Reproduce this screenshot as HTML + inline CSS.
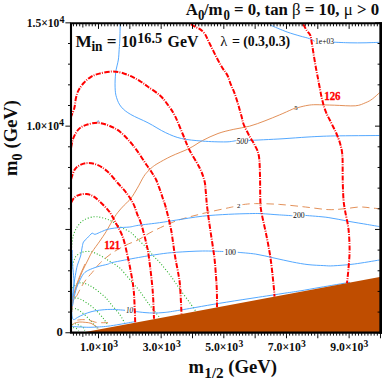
<!DOCTYPE html>
<html><head><meta charset="utf-8"><title>plot</title>
<style>
html,body{margin:0;padding:0;background:#fff;}
body{width:382px;height:383px;overflow:hidden;position:relative;font-family:"Liberation Serif",serif;}
</style></head><body>
<svg width="382" height="383" viewBox="0 0 382 383" style="display:block;position:absolute;left:0;top:0">
<rect x="0" y="0" width="382" height="383" fill="#ffffff"/>
<clipPath id="pc"><rect x="71.0" y="23.3" width="309.6" height="309.34999999999997"/></clipPath>
<g clip-path="url(#pc)" fill="none" stroke-linecap="butt" stroke-linejoin="round">
<g stroke="#2eb22e" stroke-width="1.12" stroke-dasharray="1.0 1.95">
<path d="M71.6,247.4 C71.8,245.6 72.2,239.8 73.1,236.4 C74.0,233.0 75.3,229.8 77.1,227.0 C78.9,224.2 81.3,221.6 84.1,219.9 C86.8,218.2 90.7,217.2 93.6,216.8 C96.5,216.4 98.5,216.9 101.4,217.6 C104.3,218.2 107.7,219.1 110.8,220.7 C113.9,222.3 117.2,225.2 120.3,227.0 C123.4,228.8 126.9,229.8 129.7,231.7 C132.5,233.6 134.2,235.8 137.0,238.5 C139.8,241.2 143.7,244.8 146.4,247.6 C149.1,250.4 150.7,252.9 153.0,255.5 C155.3,258.1 157.5,259.8 160.5,263.3 C163.5,266.8 167.7,272.0 171.0,276.4 C174.3,280.8 176.8,284.9 180.1,289.5 C183.4,294.1 188.1,300.4 190.7,304.0 C193.3,307.6 195.0,310.2 195.9,311.4"/>
<path d="M72.0,268.4 C72.3,267.2 73.1,263.1 73.8,261.0 C74.5,258.9 74.8,257.5 76.3,256.0 C77.8,254.5 80.2,252.8 82.6,252.1 C84.9,251.4 87.8,251.2 90.4,251.6 C93.0,252.0 95.4,253.1 98.3,254.5 C101.2,255.9 105.1,258.4 107.7,260.0 C110.3,261.6 111.9,262.5 114.0,263.9 C116.1,265.3 118.0,266.4 120.2,268.5 C122.4,270.6 125.1,273.9 127.3,276.5 C129.5,279.1 131.6,281.8 133.5,284.0 C135.4,286.2 135.9,286.2 138.5,289.5 C141.1,292.8 145.3,299.4 148.8,304.0 C152.3,308.6 157.6,314.9 159.3,317.1"/>
<path d="M72.5,288.0 C73.2,287.4 74.9,285.0 76.4,284.1 C77.9,283.2 79.7,282.7 81.6,282.8 C83.5,282.9 85.8,283.7 87.9,284.6 C90.0,285.5 91.9,286.7 94.2,288.3 C96.5,289.9 99.4,292.2 101.5,294.0 C103.6,295.8 105.2,297.2 106.7,298.8 C108.2,300.4 108.6,301.2 110.8,303.9 C113.0,306.6 117.7,311.7 120.0,314.9 C122.3,318.1 123.8,321.6 124.6,323.0"/>
<path d="M72.2,299.4 C72.8,299.1 74.5,297.9 75.9,297.9 C77.3,297.9 78.8,298.4 80.6,299.2 C82.4,300.0 84.7,301.5 86.8,302.9 C88.9,304.3 91.0,305.8 93.1,307.6 C95.2,309.4 97.5,311.7 99.4,313.8 C101.3,315.9 103.2,318.2 104.6,320.1 C106.0,322.0 107.3,324.2 107.8,325.0"/>
<path d="M72.2,309.1 C72.7,309.0 74.1,308.3 75.3,308.6 C76.5,308.9 77.9,309.6 79.5,310.7 C81.1,311.8 83.0,313.3 84.8,314.9 C86.5,316.5 88.3,318.3 90.0,320.1 C91.7,321.9 94.0,324.4 95.2,325.9 C96.4,327.3 97.0,328.3 97.3,328.8"/>
<path d="M72.2,324.6 C72.7,324.5 74.1,323.7 75.3,323.8 C76.5,323.9 78.1,324.7 79.5,325.4 C80.9,326.1 82.8,327.1 83.7,328.0 C84.6,328.9 84.6,330.2 84.8,330.6"/>
<path d="M73.2,327.5 C73.7,327.7 75.5,327.9 76.4,328.5 C77.3,329.1 78.2,330.6 78.5,331.0"/>
</g>
<g stroke="#e08a50" stroke-width="0.95">
<path d="M72.2,306.0 C72.3,305.0 72.4,301.9 72.7,299.8 C73.0,297.7 73.3,296.6 74.3,293.5 C75.3,290.4 77.1,284.8 78.5,281.0 C79.9,277.2 81.1,274.0 82.7,270.5 C84.3,267.0 86.4,263.1 87.9,260.0 C89.5,256.9 90.0,255.2 92.0,252.1 C94.0,248.9 97.5,244.5 99.8,241.1 C102.1,237.7 104.0,235.1 106.1,231.7 C108.2,228.3 110.5,223.8 112.4,220.7 C114.3,217.5 115.5,215.4 117.5,212.8 C119.5,210.2 122.0,207.5 124.2,205.2 C126.4,202.8 128.5,201.5 130.7,198.7 C132.9,195.9 135.1,191.9 137.3,188.2 C139.5,184.5 142.0,179.2 143.8,176.4 C145.6,173.6 146.6,172.8 148.0,171.2 C149.4,169.6 150.8,168.3 152.5,167.0 C154.2,165.7 154.9,165.1 158.0,163.3 C161.1,161.5 165.8,158.8 171.0,156.3 C176.2,153.8 184.1,151.0 189.3,148.4 C194.5,145.8 197.6,143.1 202.4,140.6 C207.2,138.1 212.8,135.4 218.0,133.5 C223.2,131.6 228.6,130.5 233.8,129.3 C239.1,128.1 244.3,127.6 249.5,126.2 C254.7,124.8 260.0,122.7 265.0,120.8 C270.0,118.9 274.7,116.9 279.3,115.0 C283.9,113.1 289.6,110.4 292.4,109.2 C295.2,108.0 294.9,108.4 296.0,108.1 C297.1,107.8 297.0,107.8 299.0,107.3 C301.0,106.8 305.2,105.7 308.0,105.3 C310.8,104.9 311.6,104.7 316.0,104.7 C320.4,104.7 327.8,105.0 334.4,105.2 C340.9,105.4 350.1,106.2 355.3,105.8 C360.5,105.4 363.0,103.7 365.8,102.6 C368.6,101.5 370.0,100.7 372.3,99.0 C374.6,97.3 378.3,93.8 379.5,92.7"/>
<path d="M72.0,312.0 C72.0,310.7 72.0,306.7 72.2,304.0 C72.4,301.3 72.5,299.2 73.2,296.0 C73.9,292.8 75.3,288.7 76.5,285.0 C77.7,281.3 79.2,277.5 80.6,274.0 C82.0,270.5 84.3,265.7 85.0,264.0"/>
<path d="M71.7,325.4 C72.1,325.0 73.0,323.9 74.3,323.3 C75.6,322.7 77.6,322.1 79.5,322.0 C81.4,321.9 83.9,322.2 85.8,322.4 C87.7,322.6 89.4,322.7 91.0,323.3 C92.6,323.9 94.0,325.1 95.2,325.9 C96.4,326.7 97.9,327.6 98.4,328.0"/>
<path d="M72.0,309.0 C72.2,307.7 72.7,303.5 73.2,301.3 C73.8,299.1 75.0,296.9 75.3,296.0"/>
</g>
<g stroke="#e08a50" stroke-width="0.95" stroke-dasharray="7.5 4.5">
<path d="M76.4,296.6 C77.1,295.2 79.0,291.1 80.6,288.3 C82.2,285.5 83.9,282.5 85.8,279.9 C87.7,277.3 89.6,275.5 92.1,272.6 C94.5,269.7 97.1,265.9 100.5,262.6 C103.9,259.3 108.3,255.7 112.4,252.8 C116.5,250.0 120.7,247.7 125.0,245.5 C129.3,243.3 133.9,242.0 138.5,239.7 C143.1,237.3 146.3,234.5 152.6,231.4 C158.9,228.3 167.9,223.9 176.2,220.9 C184.5,217.9 193.7,215.8 202.4,213.6 C211.1,211.4 223.0,209.0 228.5,207.8 C234.0,206.6 234.3,206.6 235.5,206.4"/>
<path d="M242.5,204.6 C244.7,204.4 249.6,203.6 255.7,203.6 C261.8,203.6 271.0,203.8 279.3,204.4 C287.6,205.0 297.3,206.1 305.4,207.0 C313.5,207.9 321.7,209.3 328.1,209.6 C334.5,209.9 338.6,209.2 343.8,208.8 C349.0,208.4 355.1,207.2 359.5,207.0 C363.9,206.8 366.7,207.5 370.0,207.8 C373.3,208.1 377.9,208.6 379.5,208.8"/>
<path d="M77.4,320.1 C78.3,320.0 80.8,319.6 82.7,319.6 C84.6,319.6 86.8,319.7 88.9,320.1 C91.0,320.5 93.1,321.8 95.2,322.2 C97.3,322.6 99.4,322.6 101.5,322.7 C103.6,322.8 106.9,322.6 108.0,322.6"/>
</g>
<g stroke="#4ba3ff" stroke-width="0.95">
<path d="M120.2,24.0 C120.1,26.7 120.0,35.3 119.8,40.0 C119.6,44.7 119.2,48.7 119.0,52.0 C118.8,55.3 118.8,56.6 118.3,60.0 C117.8,63.4 116.2,68.1 115.7,72.6 C115.2,77.1 114.9,83.0 115.1,87.2 C115.2,91.4 115.5,94.4 116.6,97.7 C117.6,101.0 119.0,104.3 121.4,107.1 C123.8,109.9 126.4,111.9 130.8,114.5 C135.2,117.1 142.2,119.8 148.0,122.8 C153.8,125.8 160.1,130.1 165.7,132.7 C171.3,135.3 175.3,137.1 181.4,138.5 C187.5,139.9 195.0,140.5 202.4,141.1 C209.8,141.7 220.3,142.0 226.0,141.9 C231.7,141.8 234.7,140.8 236.4,140.6"/>
<path d="M248.5,140.5 C254.1,140.2 272.1,139.4 282.0,138.8 C291.9,138.2 299.3,137.5 308.0,137.0 C316.7,136.5 322.5,136.2 334.4,135.9 C346.3,135.7 372.0,135.6 379.5,135.5"/>
<path d="M270.1,25.0 C272.9,26.2 282.1,30.2 287.1,32.0 C292.1,33.8 296.3,34.9 300.0,36.0 C303.7,37.1 307.0,37.7 309.4,38.6 C311.8,39.5 313.7,40.8 314.6,41.2"/>
<path d="M334.0,42.2 C336.7,42.3 344.8,42.7 350.0,42.8 C355.2,42.9 360.1,42.9 365.0,42.8 C369.9,42.7 377.1,42.4 379.5,42.3"/>
<path d="M72.2,299.8 C72.4,298.1 72.7,293.3 73.2,289.3 C73.7,285.3 74.6,279.7 75.3,275.7 C76.0,271.7 76.5,268.5 77.4,265.2 C78.3,261.9 79.8,259.0 80.6,256.0 C81.4,253.0 81.7,249.3 82.2,247.0 C82.7,244.7 82.7,243.5 83.5,242.0 C84.3,240.5 85.9,239.4 87.3,238.0 C88.7,236.6 90.7,233.9 92.0,233.3 C93.3,232.7 93.5,234.6 95.1,234.3 C96.7,234.0 99.3,232.5 101.4,231.7 C103.5,230.9 105.1,230.0 107.7,229.3 C110.3,228.7 113.4,228.2 117.1,227.8 C120.8,227.4 126.1,227.4 129.7,227.0 C133.3,226.6 133.5,226.0 138.5,225.3 C143.5,224.6 153.2,223.6 159.5,222.7 C165.8,221.8 169.0,221.2 176.2,220.1 C183.3,219.0 193.7,217.2 202.4,216.2 C211.1,215.2 220.7,214.7 228.5,214.3 C236.3,213.9 244.1,213.7 249.5,213.6 C254.9,213.5 256.0,213.4 261.0,213.6 C266.0,213.8 274.1,214.6 279.3,214.9 C284.5,215.2 290.2,215.6 292.4,215.7"/>
<path d="M305.4,215.4 C309.2,215.8 320.8,216.5 328.1,217.5 C335.4,218.5 342.4,220.2 349.0,221.4 C355.6,222.6 362.3,223.6 367.4,224.5 C372.5,225.4 377.5,226.2 379.5,226.6"/>
<path d="M72.5,306.0 C72.7,304.8 73.1,301.6 73.8,298.7 C74.5,295.8 75.5,291.2 76.4,288.3 C77.4,285.4 78.3,283.4 79.5,281.0 C80.7,278.6 82.1,275.4 83.7,273.6 C85.3,271.8 86.6,271.1 88.9,270.0 C91.2,268.9 94.2,267.8 97.3,266.8 C100.4,265.8 105.3,264.9 107.8,264.2 C110.3,263.5 107.3,263.6 112.4,262.5 C117.5,261.4 130.7,258.9 138.5,257.5 C146.3,256.1 153.2,255.0 159.5,254.1 C165.8,253.2 169.0,252.8 176.2,252.3 C183.3,251.8 194.6,251.1 202.4,251.0 C210.2,250.9 219.8,251.4 223.3,251.5"/>
<path d="M237.7,252.3 C240.7,252.6 249.6,253.2 255.7,254.1 C261.8,255.0 267.9,256.7 274.0,258.0 C280.1,259.3 286.7,260.9 292.4,262.0 C298.1,263.1 302.8,264.0 308.0,264.6 C313.2,265.2 319.6,265.4 323.8,265.6 C328.0,265.8 328.3,266.1 333.4,265.8 C338.5,265.5 346.6,265.0 354.3,264.0 C362.0,263.0 375.3,260.7 379.5,260.0"/>
<path d="M71.9,300.0 C71.9,301.8 71.7,307.9 71.7,310.7 C71.8,313.5 71.9,315.5 72.2,317.0 C72.5,318.5 72.9,319.5 73.8,319.6 C74.7,319.7 75.8,318.4 77.4,317.5 C79.1,316.6 81.4,315.3 83.7,314.4 C86.0,313.4 88.4,312.5 91.0,311.8 C93.6,311.1 96.1,310.6 99.4,310.2 C102.7,309.8 106.5,309.4 110.8,309.4 C115.1,309.4 122.6,310.1 125.0,310.3"/>
<path d="M134.4,311.4 C136.2,311.6 141.7,312.3 145.0,312.6 C148.3,312.9 151.0,313.0 154.0,313.0 C157.0,313.0 159.9,312.9 163.0,312.6 C166.1,312.3 166.9,312.3 172.4,311.4 C177.9,310.5 188.1,308.8 195.9,307.4 C203.8,306.0 210.5,304.8 219.5,303.3 C228.5,301.8 239.6,300.1 250.0,298.5 C260.4,296.9 273.7,294.9 282.0,293.6 C290.3,292.3 293.7,291.9 300.0,290.9 C306.3,289.9 311.7,288.8 320.0,287.4 C328.3,286.0 345.0,283.1 350.0,282.3"/>
<path d="M72.2,326.4 C73.2,326.5 75.7,326.8 78.5,326.9 C81.3,327.0 85.4,327.3 88.9,327.3 C92.4,327.3 96.2,327.1 99.4,326.9 C102.6,326.7 104.4,326.6 107.8,326.2 C111.2,325.8 115.5,325.1 120.0,324.3 C124.5,323.5 132.5,322.1 135.0,321.6"/>
<path d="M97.4,122.4 C97.5,122.1 97.9,120.6 98.2,120.6 C98.5,120.6 99.0,121.9 99.2,122.2"/>
<path d="M72.2,250.0 C72.2,252.0 72.2,257.7 72.4,262.0 C72.6,266.3 73.3,271.7 73.6,275.7 C73.9,279.7 74.1,282.6 74.0,286.0 C73.9,289.4 73.2,294.3 73.0,296.0"/>
</g>
<path d="M76.5,333.65 L382.6,276.4 L382.6,333.65 Z" fill="#bf4d00" stroke="none"/>
<g stroke="#ff0000" stroke-width="2.0" stroke-dasharray="5.2 1.25 0.9 1.45">
<path d="M71.0,118.0 C71.0,117.8 70.5,118.1 71.1,116.5 C71.6,114.9 73.5,111.3 74.3,108.2 C75.1,105.1 75.3,100.7 76.0,97.7 C76.7,94.7 77.2,92.9 78.5,90.4 C79.8,88.0 81.6,85.3 83.7,83.0 C85.8,80.7 88.4,78.4 91.0,76.8 C93.6,75.2 95.9,74.5 99.4,73.6 C102.9,72.7 108.2,71.6 112.0,71.5 C115.8,71.4 119.0,72.0 122.5,73.0 C126.0,74.0 129.8,75.7 132.9,77.2 C136.0,78.7 138.8,80.4 141.3,82.0 C143.8,83.6 144.9,84.5 148.0,86.8 C151.1,89.0 156.7,92.5 160.0,95.5 C163.3,98.5 165.5,101.6 168.0,105.0 C170.5,108.4 172.6,111.2 175.0,116.0 C177.4,120.8 180.3,128.4 182.7,134.0 C185.1,139.6 186.5,144.0 189.3,149.7 C192.1,155.4 197.2,162.8 199.7,168.0 C202.2,173.2 203.5,177.0 204.5,181.0 C205.5,185.0 205.4,187.9 205.8,192.0 C206.2,196.1 206.3,199.5 207.0,205.7 C207.7,211.9 209.0,221.0 210.2,229.3 C211.4,237.6 213.1,247.6 214.1,255.4 C215.1,263.2 215.6,270.7 216.0,276.4 C216.4,282.1 216.6,284.4 216.8,289.5 C217.0,294.6 217.0,304.2 217.0,307.2"/>
<path d="M71.1,147.7 C71.4,146.2 72.0,141.6 73.2,138.5 C74.4,135.4 76.3,131.7 78.5,129.4 C80.7,127.1 83.0,126.0 86.3,124.9 C89.6,123.8 94.2,122.6 98.1,122.8 C102.0,123.0 106.1,124.5 109.8,126.0 C113.5,127.5 116.8,129.2 120.3,132.0 C123.8,134.8 127.6,139.0 130.7,142.5 C133.8,146.0 136.0,149.2 138.6,152.9 C141.2,156.6 144.2,161.5 146.4,164.7 C148.6,167.9 149.9,169.5 151.5,172.0 C153.1,174.5 154.6,176.5 156.0,179.5 C157.4,182.5 158.8,186.8 160.0,190.0 C161.2,193.2 162.1,196.2 163.0,199.0 C163.9,201.8 164.4,201.9 165.7,207.0 C167.0,212.1 169.5,221.2 171.0,229.3 C172.5,237.4 173.6,247.6 174.9,255.4 C176.2,263.2 177.9,270.9 178.8,276.4 C179.7,281.9 179.8,282.1 180.2,288.3 C180.6,294.5 181.3,309.4 181.5,313.6"/>
<path d="M71.1,179.1 C71.7,177.6 73.0,172.2 74.5,169.9 C76.0,167.6 77.6,166.3 79.8,165.2 C82.0,164.1 84.8,163.2 87.6,163.1 C90.4,163.0 93.5,163.3 96.8,164.7 C100.1,166.0 103.7,168.1 107.2,171.2 C110.7,174.2 114.4,179.3 117.7,183.0 C121.0,186.7 124.2,189.9 126.8,193.4 C129.4,196.9 131.7,200.4 133.4,203.9 C135.2,207.4 136.0,211.0 137.3,214.3 C138.6,217.7 139.8,219.4 141.2,224.0 C142.6,228.6 144.7,236.3 146.0,242.0 C147.3,247.7 147.9,249.8 149.0,258.0 C150.1,266.2 151.9,280.9 152.7,291.0 C153.5,301.1 153.8,314.1 154.0,318.7"/>
<path d="M71.1,202.6 C71.7,201.7 73.0,198.7 74.5,197.4 C76.0,196.1 77.8,195.3 79.8,194.7 C81.8,194.1 84.1,193.8 86.3,194.0 C88.5,194.2 90.6,194.8 92.8,196.0 C95.0,197.2 97.0,199.1 99.4,201.3 C101.8,203.5 105.2,206.9 107.2,209.1 C109.2,211.3 109.8,212.2 111.1,214.3 C112.4,216.4 113.0,217.6 115.0,221.4 C117.0,225.2 120.6,231.0 122.8,237.1 C125.0,243.2 126.7,252.5 128.0,258.0 C129.3,263.5 129.6,265.2 130.5,270.0 C131.4,274.8 132.7,281.8 133.3,287.0 C134.0,292.2 134.1,295.5 134.4,301.4 C134.7,307.3 135.1,318.7 135.2,322.2"/>
<path d="M190.9,24.2 C191.7,24.7 194.0,26.1 195.6,27.0 C197.2,27.9 198.7,28.2 200.3,29.4 C201.9,30.6 203.6,32.1 205.0,34.1 C206.4,36.1 207.1,38.5 208.5,41.2 C209.9,44.0 211.6,47.5 213.2,50.6 C214.8,53.7 216.3,57.1 217.9,60.0 C219.5,62.9 221.0,65.7 222.6,68.2 C224.2,70.8 226.0,72.5 227.4,75.3 C228.8,78.0 229.7,81.8 230.9,84.7 C232.1,87.6 233.4,90.2 234.4,92.9 C235.4,95.7 236.3,98.5 237.2,101.2 C238.1,104.0 238.9,106.9 239.6,109.4 C240.3,112.0 240.9,114.0 241.6,116.5 C242.3,119.0 242.4,121.2 243.7,124.5 C245.0,127.8 247.5,132.4 249.4,136.0 C251.3,139.6 253.6,142.7 255.2,146.0 C256.8,149.3 258.1,151.1 258.9,156.1 C259.7,161.1 259.8,169.0 260.0,176.2 C260.2,183.4 260.1,193.4 260.3,199.2 C260.5,205.0 260.2,205.1 261.2,211.0 C262.2,216.9 264.7,227.1 266.2,234.5 C267.7,241.9 269.0,248.4 270.1,255.4 C271.2,262.4 272.1,270.7 272.7,276.4 C273.3,282.1 273.7,286.1 274.0,289.5 C274.3,292.9 274.4,295.4 274.5,296.6"/>
<path d="M303.2,24.2 C303.8,25.3 305.6,28.8 306.8,30.6 C308.0,32.5 309.5,33.1 310.3,35.3 C311.1,37.4 311.3,40.2 311.9,43.5 C312.5,46.8 313.1,51.0 313.8,55.3 C314.5,59.6 315.4,65.1 316.2,69.4 C317.0,73.7 317.8,77.3 318.5,81.2 C319.2,85.1 320.1,89.7 320.7,92.9 C321.3,96.1 321.8,98.0 322.4,100.5 C323.0,103.0 323.6,105.7 324.4,108.0 C325.2,110.3 326.1,112.5 327.0,114.5 C327.9,116.5 328.8,118.0 329.8,120.0 C330.8,122.0 332.0,124.4 333.0,126.5 C334.0,128.6 335.1,130.4 336.0,132.5 C336.9,134.6 337.8,136.9 338.6,139.0 C339.4,141.1 340.0,143.0 340.6,145.2 C341.2,147.4 341.7,149.5 342.0,152.0 C342.3,154.5 342.5,155.6 342.6,160.0 C342.7,164.4 342.6,171.9 342.7,178.5 C342.8,185.1 343.1,194.1 343.5,199.5 C343.9,204.9 344.3,206.0 345.1,210.9 C345.9,215.8 347.8,222.7 348.5,229.2 C349.2,235.7 349.6,243.6 349.6,250.1 C349.6,256.6 348.9,262.9 348.5,268.4 C348.1,273.9 347.2,280.7 347.0,283.2"/>
</g>
</g>
<g stroke="#000" fill="none" stroke-linecap="butt">
<path d="M73.44,333.15 v2.5 M73.44,23.8 v2.5 M76.57,333.15 v2.5 M76.57,23.8 v2.5 M79.70,333.15 v2.5 M79.70,23.8 v2.5 M82.84,333.15 v3.7 M82.84,23.8 v3.7 M85.97,333.15 v2.5 M85.97,23.8 v2.5 M89.10,333.15 v2.5 M89.10,23.8 v2.5 M92.23,333.15 v2.5 M92.23,23.8 v2.5 M95.37,333.15 v2.5 M95.37,23.8 v2.5 M98.50,333.15 v5.1 M98.50,23.8 v5.1 M101.63,333.15 v2.5 M101.63,23.8 v2.5 M104.77,333.15 v2.5 M104.77,23.8 v2.5 M107.90,333.15 v2.5 M107.90,23.8 v2.5 M111.03,333.15 v2.5 M111.03,23.8 v2.5 M114.16,333.15 v2.5 M114.16,23.8 v2.5 M117.30,333.15 v2.5 M117.30,23.8 v2.5 M120.43,333.15 v2.5 M120.43,23.8 v2.5 M123.56,333.15 v2.5 M123.56,23.8 v2.5 M126.70,333.15 v2.5 M126.70,23.8 v2.5 M129.83,333.15 v5.1 M129.83,23.8 v5.1 M132.96,333.15 v2.5 M132.96,23.8 v2.5 M136.10,333.15 v2.5 M136.10,23.8 v2.5 M139.23,333.15 v2.5 M139.23,23.8 v2.5 M142.36,333.15 v2.5 M142.36,23.8 v2.5 M145.50,333.15 v2.5 M145.50,23.8 v2.5 M148.63,333.15 v2.5 M148.63,23.8 v2.5 M151.76,333.15 v2.5 M151.76,23.8 v2.5 M154.89,333.15 v2.5 M154.89,23.8 v2.5 M158.03,333.15 v2.5 M158.03,23.8 v2.5 M161.16,333.15 v5.1 M161.16,23.8 v5.1 M164.29,333.15 v2.5 M164.29,23.8 v2.5 M167.43,333.15 v2.5 M167.43,23.8 v2.5 M170.56,333.15 v2.5 M170.56,23.8 v2.5 M173.69,333.15 v2.5 M173.69,23.8 v2.5 M176.82,333.15 v2.5 M176.82,23.8 v2.5 M179.96,333.15 v2.5 M179.96,23.8 v2.5 M183.09,333.15 v2.5 M183.09,23.8 v2.5 M186.22,333.15 v2.5 M186.22,23.8 v2.5 M189.36,333.15 v2.5 M189.36,23.8 v2.5 M192.49,333.15 v5.1 M192.49,23.8 v5.1 M195.62,333.15 v2.5 M195.62,23.8 v2.5 M198.76,333.15 v2.5 M198.76,23.8 v2.5 M201.89,333.15 v2.5 M201.89,23.8 v2.5 M205.02,333.15 v2.5 M205.02,23.8 v2.5 M208.16,333.15 v2.5 M208.16,23.8 v2.5 M211.29,333.15 v2.5 M211.29,23.8 v2.5 M214.42,333.15 v2.5 M214.42,23.8 v2.5 M217.55,333.15 v2.5 M217.55,23.8 v2.5 M220.69,333.15 v2.5 M220.69,23.8 v2.5 M223.82,333.15 v5.1 M223.82,23.8 v5.1 M226.95,333.15 v2.5 M226.95,23.8 v2.5 M230.09,333.15 v2.5 M230.09,23.8 v2.5 M233.22,333.15 v2.5 M233.22,23.8 v2.5 M236.35,333.15 v2.5 M236.35,23.8 v2.5 M239.48,333.15 v2.5 M239.48,23.8 v2.5 M242.62,333.15 v2.5 M242.62,23.8 v2.5 M245.75,333.15 v2.5 M245.75,23.8 v2.5 M248.88,333.15 v2.5 M248.88,23.8 v2.5 M252.02,333.15 v2.5 M252.02,23.8 v2.5 M255.15,333.15 v5.1 M255.15,23.8 v5.1 M258.28,333.15 v2.5 M258.28,23.8 v2.5 M261.42,333.15 v2.5 M261.42,23.8 v2.5 M264.55,333.15 v2.5 M264.55,23.8 v2.5 M267.68,333.15 v2.5 M267.68,23.8 v2.5 M270.81,333.15 v2.5 M270.81,23.8 v2.5 M273.95,333.15 v2.5 M273.95,23.8 v2.5 M277.08,333.15 v2.5 M277.08,23.8 v2.5 M280.21,333.15 v2.5 M280.21,23.8 v2.5 M283.35,333.15 v2.5 M283.35,23.8 v2.5 M286.48,333.15 v5.1 M286.48,23.8 v5.1 M289.61,333.15 v2.5 M289.61,23.8 v2.5 M292.75,333.15 v2.5 M292.75,23.8 v2.5 M295.88,333.15 v2.5 M295.88,23.8 v2.5 M299.01,333.15 v2.5 M299.01,23.8 v2.5 M302.14,333.15 v2.5 M302.14,23.8 v2.5 M305.28,333.15 v2.5 M305.28,23.8 v2.5 M308.41,333.15 v2.5 M308.41,23.8 v2.5 M311.54,333.15 v2.5 M311.54,23.8 v2.5 M314.68,333.15 v2.5 M314.68,23.8 v2.5 M317.81,333.15 v5.1 M317.81,23.8 v5.1 M320.94,333.15 v2.5 M320.94,23.8 v2.5 M324.08,333.15 v2.5 M324.08,23.8 v2.5 M327.21,333.15 v2.5 M327.21,23.8 v2.5 M330.34,333.15 v2.5 M330.34,23.8 v2.5 M333.48,333.15 v2.5 M333.48,23.8 v2.5 M336.61,333.15 v2.5 M336.61,23.8 v2.5 M339.74,333.15 v2.5 M339.74,23.8 v2.5 M342.87,333.15 v2.5 M342.87,23.8 v2.5 M346.01,333.15 v2.5 M346.01,23.8 v2.5 M349.14,333.15 v5.1 M349.14,23.8 v5.1 M352.27,333.15 v2.5 M352.27,23.8 v2.5 M355.41,333.15 v2.5 M355.41,23.8 v2.5 M358.54,333.15 v2.5 M358.54,23.8 v2.5 M361.67,333.15 v2.5 M361.67,23.8 v2.5 M364.81,333.15 v2.5 M364.81,23.8 v2.5 M367.94,333.15 v2.5 M367.94,23.8 v2.5 M371.07,333.15 v2.5 M371.07,23.8 v2.5 M374.20,333.15 v2.5 M374.20,23.8 v2.5 M377.34,333.15 v2.5 M377.34,23.8 v2.5 M380.47,333.15 v5.1 M380.47,23.8 v5.1" stroke-width="0.95"/>
<path d="M70.5,332.75 h-5.1 M380.1,332.75 h-5.1 M70.5,312.09 h-2.5 M380.1,312.09 h-2.5 M70.5,291.43 h-2.5 M380.1,291.43 h-2.5 M70.5,270.77 h-2.5 M380.1,270.77 h-2.5 M70.5,250.11 h-2.5 M380.1,250.11 h-2.5 M70.5,229.45 h-5.1 M380.1,229.45 h-5.1 M70.5,208.79 h-2.5 M380.1,208.79 h-2.5 M70.5,188.13 h-2.5 M380.1,188.13 h-2.5 M70.5,167.47 h-2.5 M380.1,167.47 h-2.5 M70.5,146.81 h-2.5 M380.1,146.81 h-2.5 M70.5,126.15 h-5.1 M380.1,126.15 h-5.1 M70.5,105.49 h-2.5 M380.1,105.49 h-2.5 M70.5,84.83 h-2.5 M380.1,84.83 h-2.5 M70.5,64.17 h-2.5 M380.1,64.17 h-2.5 M70.5,43.51 h-2.5 M380.1,43.51 h-2.5 M70.5,22.85 h-5.1 M380.1,22.85 h-5.1" stroke-width="0.95"/>
<path d="M71.0,22.25 V333.7 M70.0,332.65 H382.0 M70.0,23.3 H382.0" stroke-width="2.1"/>
<path d="M380.70000000000005,22.25 V333.7" stroke-width="2.7"/>
</g>
<g font-family="Liberation Serif, serif" font-weight="bold" fill="#0d0d0d">
<!-- title -->
<text x="185.7" y="14.8" font-size="16.8">A</text>
<text transform="translate(197.9,19.7) scale(0.86,1)" font-size="15">0</text>
<text x="203.9" y="14.8" font-size="16.8">/m</text>
<text transform="translate(223.4,19.7) scale(0.86,1)" font-size="15">0</text>
<text x="234" y="14.8" font-size="16.8">= 0, tan <tspan font-weight="normal">β</tspan> = 10, <tspan font-weight="normal">μ</tspan> &gt; 0</text>
<!-- Min -->
<text x="75.6" y="46.8" font-size="17.2">M</text>
<text transform="translate(91.4,50.5) scale(0.92,1)" font-size="14.5">in</text>
<text x="106.7" y="46.8" font-size="17.2">=</text>
<text x="121.3" y="46.8" font-size="17.2" textLength="15.6" lengthAdjust="spacingAndGlyphs">10</text>
<text x="137.2" y="43.3" font-size="15.5" textLength="25" lengthAdjust="spacingAndGlyphs">16.5</text>
<text x="167.6" y="46.8" font-size="17.2" textLength="30.8" lengthAdjust="spacingAndGlyphs">GeV</text>
<!-- lambda -->
<text x="220.2" y="46.4" font-size="14.6" font-weight="normal">λ</text>
<text x="235.9" y="46.4" font-size="14" text-anchor="middle">=</text>
<text x="243.2" y="46.4" font-size="14" textLength="47" lengthAdjust="spacingAndGlyphs">(0.3,0.3)</text>
<!-- y tick labels -->
<text x="26.8" y="26.6" font-size="12.6" textLength="32.6" lengthAdjust="spacingAndGlyphs">1.5×10</text>
<text x="59.4" y="22.6" font-size="10">4</text>
<text x="26.4" y="129.7" font-size="12.6" textLength="32.6" lengthAdjust="spacingAndGlyphs">1.0×10</text>
<text x="59" y="125.7" font-size="10">4</text>
<text x="56.4" y="336.3" font-size="12.6">0</text>
<!-- x tick labels -->
<text x="80.1" y="351.4" font-size="12.6" textLength="33" lengthAdjust="spacingAndGlyphs">1.0×10</text>
<text x="113.3" y="347.1" font-size="9.6">3</text>
<text x="142.7" y="351.4" font-size="12.6" textLength="33" lengthAdjust="spacingAndGlyphs">3.0×10</text>
<text x="175.9" y="347.1" font-size="9.6">3</text>
<text x="205.2" y="351.4" font-size="12.6" textLength="33" lengthAdjust="spacingAndGlyphs">5.0×10</text>
<text x="238.4" y="347.1" font-size="9.6">3</text>
<text x="267.8" y="351.4" font-size="12.6" textLength="33" lengthAdjust="spacingAndGlyphs">7.0×10</text>
<text x="301.0" y="347.1" font-size="9.6">3</text>
<text x="330.3" y="351.4" font-size="12.6" textLength="33" lengthAdjust="spacingAndGlyphs">9.0×10</text>
<text x="363.5" y="347.1" font-size="9.6">3</text>
<!-- x label -->
<text x="188.6" y="372.6" font-size="18.5">m</text>
<text transform="translate(204.3,377.8) scale(0.98,1)" font-size="15.5">1/2</text>
<text x="228.2" y="372.7" font-size="18.7">(GeV)</text>
<!-- y label -->
<g transform="translate(17.4,176) rotate(-90)">
<text x="0" y="0" font-size="18.5">m</text>
<text transform="translate(15.6,4.4) scale(0.9,1)" font-size="15.5">0</text>
<text x="27.6" y="0" font-size="18.5">(GeV)</text>
</g>
<!-- red labels -->
<text x="104.2" y="249.3" font-size="13.4" fill="#ff0000" stroke="#ff0000" stroke-width="0.3" textLength="16" lengthAdjust="spacingAndGlyphs">121</text>
<text x="324.2" y="100.1" font-size="13.4" fill="#ff0000" stroke="#ff0000" stroke-width="0.3" textLength="16.4" lengthAdjust="spacingAndGlyphs">126</text>
</g>
<g font-family="Liberation Serif, serif" font-weight="normal" fill="#0a0a0a" font-size="8.4">
<text x="315" y="43.5" textLength="19" lengthAdjust="spacingAndGlyphs">1e+03</text>
<text x="236.5" y="143.6" textLength="11.6" lengthAdjust="spacingAndGlyphs" font-style="italic">500</text>
<text x="293.1" y="217.7" textLength="11.6" lengthAdjust="spacingAndGlyphs">200</text>
<text x="224.4" y="254.9" textLength="11.6" lengthAdjust="spacingAndGlyphs">100</text>
<text x="125.9" y="313.1" textLength="7.2" lengthAdjust="spacingAndGlyphs" font-style="italic">10</text>
<text x="294.2" y="109.5" font-size="6.8">5</text>
<text x="237" y="208" font-size="6.8">2</text>
</g>

</svg>
</body></html>
